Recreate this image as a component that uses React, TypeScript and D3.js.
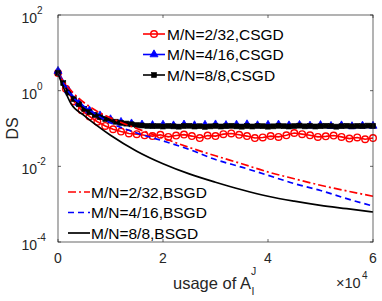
import React from "react";
import * as d3 from "d3";

// x in units of "usage", y is DS (log scale)
const csgdRedStep = 1500;
const csgdRed = [
  2.95, 1.12, 0.525, 0.302, 0.209, 0.151, 0.117, 0.0955, 0.083, 0.074, 0.071,
  0.066, 0.063, 0.068, 0.06, 0.065, 0.069, 0.063, 0.056, 0.065, 0.063,
  0.071, 0.074, 0.068, 0.063, 0.056, 0.058, 0.063, 0.06, 0.066, 0.076,
  0.071, 0.066, 0.06, 0.062, 0.065, 0.06, 0.054, 0.058, 0.052, 0.056,
];

const csgdBlueStep = 2000;
const csgdBlue = [
  3.3, 1.0, 0.47, 0.295, 0.22, 0.174, 0.148, 0.135, 0.126, 0.122, 0.125,
  0.12, 0.126, 0.121, 0.124, 0.127, 0.122, 0.125, 0.128, 0.121, 0.124,
  0.126, 0.12, 0.123, 0.118, 0.122, 0.116, 0.12, 0.114, 0.118, 0.117,
];

const csgdBlackStep = 1000;
const csgdBlack = [
  2.95, 1.58, 0.89, 0.6, 0.437, 0.331, 0.269, 0.229, 0.2, 0.178, 0.162,
  0.151, 0.141, 0.135, 0.129, 0.123, 0.12, 0.117, 0.115, 0.116, 0.113,
  0.117, 0.114, 0.112, 0.116, 0.118, 0.113, 0.115, 0.111, 0.114, 0.117,
  0.113, 0.115, 0.118, 0.114, 0.112, 0.116, 0.113, 0.117, 0.115, 0.112,
  0.114, 0.118, 0.115, 0.113, 0.116, 0.119, 0.114, 0.117, 0.113, 0.115,
  0.118, 0.116, 0.112, 0.115, 0.118, 0.114, 0.117, 0.115, 0.119, 0.117,
];

const bsgdX = [0, 1000, 2500, 5000, 7500, 10000, 15000, 20000, 25000, 30000, 35000, 40000, 45000, 50000, 55000, 60000];
const bsgdRed = [2.8, 1.78, 1.0, 0.479, 0.282, 0.191, 0.1, 0.056, 0.0316, 0.019, 0.0117, 0.0071, 0.0047, 0.00316, 0.00224, 0.00162];
const bsgdBlue = [2.8, 1.58, 0.76, 0.38, 0.224, 0.141, 0.076, 0.047, 0.028, 0.0151, 0.0095, 0.0058, 0.0035, 0.0023, 0.0014, 0.00089];
const bsgdBlack = [2.8, 1.26, 0.447, 0.219, 0.117, 0.066, 0.0251, 0.0117, 0.0063, 0.0038, 0.0024, 0.00162, 0.0012, 0.00093, 0.00076, 0.00062];

const xTicks = [0, 20000, 40000, 60000];
const xTickLabels = ["0", "2", "4", "6"];
const yTicks = [1e-4, 1e-2, 1, 1e2];
const yTickExp = ["-4", "-2", "0", "2"];

const csgdLabels = ["M/N=2/32,CSGD", "M/N=4/16,CSGD", "M/N=8/8,CSGD"];
const bsgdLabels = ["M/N=2/32,BSGD", "M/N=4/16,BSGD", "M/N=8/8,BSGD"];

const W = 382;
const H = 301;
const m = { left: 58, right: 9, top: 15, bottom: 59 };
const font = "'Liberation Sans', Arial, Helvetica, sans-serif";
const axisColor = "#262626";

const x = d3.scaleLinear().domain([0, 60000]).range([m.left, W - m.right]);
const y = d3.scaleLog().domain([1e-4, 1e2]).range([H - m.bottom, m.top]);

type Pt = [number, number];
const stepped = (vals: number[], step: number): Pt[] => vals.map((v, i) => [i * step, v]);
const paired = (xs: number[], vals: number[]): Pt[] => vals.map((v, i) => [xs[i], v]);

const linePath = d3.line<Pt>().x((d) => x(d[0])).y((d) => y(d[1]));
const smoothPath = d3
  .line<Pt>()
  .x((d) => x(d[0]))
  .y((d) => y(d[1]))
  .curve(d3.curveMonotoneX);

const triPath = d3.symbol(d3.symbolTriangle, 28)() || "";

const Marker = ({ kind, cx, cy }: { kind: string; cx: number; cy: number }) => {
  if (kind === "circle")
    return <circle cx={cx} cy={cy} r={3.3} fill="none" stroke="#ff0000" strokeWidth={1.4} />;
  if (kind === "tri")
    return <path d={triPath} transform={`translate(${cx},${cy})`} fill="#0000ff" stroke="#0000ff" strokeWidth={0.8} />;
  return <rect x={cx - 2.5} y={cy - 2.5} width={5} height={5} fill="#000" stroke="#000" strokeWidth={0.6} />;
};

const csgd = [
  { pts: stepped(csgdRed, csgdRedStep), color: "#ff0000", kind: "circle" },
  { pts: stepped(csgdBlue, csgdBlueStep), color: "#0000ff", kind: "tri" },
  { pts: stepped(csgdBlack, csgdBlackStep), color: "#000000", kind: "square" },
];

const bsgd = [
  { pts: paired(bsgdX, bsgdRed), color: "#ff0000", dash: "8,3,2,3" },
  { pts: paired(bsgdX, bsgdBlue), color: "#0000ff", dash: "6,4" },
  { pts: paired(bsgdX, bsgdBlack), color: "#000000", dash: "none" },
];

export default function App() {
  const [x0, x1] = x.range();
  const [yb, yt] = y.range();
  const tl = 3;
  return (
    <div style={{ position: "absolute", left: 0, top: 0 }}>
      <svg width={W} height={H} style={{ display: "block", background: "#fff" }} fontFamily={font}>
        {/* data */}
        {csgd.map((s, i) => (
          <g key={"c" + i}>
            <path d={linePath(s.pts) || ""} fill="none" stroke={s.color} strokeWidth={1.6} />
            {s.pts.map((p, j) => (
              <Marker key={j} kind={s.kind} cx={x(p[0])} cy={y(p[1])} />
            ))}
          </g>
        ))}
        {bsgd.map((s, i) => (
          <path
            key={"b" + i}
            d={smoothPath(s.pts) || ""}
            fill="none"
            stroke={s.color}
            strokeWidth={1.7}
            strokeDasharray={s.dash}
          />
        ))}

        {/* box and ticks */}
        <rect x={x0} y={yt} width={x1 - x0} height={yb - yt} fill="none" stroke={axisColor} strokeWidth={0.7} />
        {xTicks.map((t, i) => (
          <g key={"xt" + i}>
            <line x1={x(t)} x2={x(t)} y1={yb} y2={yb - tl} stroke={axisColor} strokeWidth={0.7} />
            <line x1={x(t)} x2={x(t)} y1={yt} y2={yt + tl} stroke={axisColor} strokeWidth={0.7} />
            <text x={x(t)} y={yb + 21} fontSize={14} textAnchor="middle" fill="#262626">
              {xTickLabels[i]}
            </text>
          </g>
        ))}
        {yTicks.map((t, i) => (
          <g key={"yt" + i}>
            <line x1={x0} x2={x0 + tl} y1={y(t)} y2={y(t)} stroke={axisColor} strokeWidth={0.7} />
            <line x1={x1} x2={x1 - tl} y1={y(t)} y2={y(t)} stroke={axisColor} strokeWidth={0.7} />
            <text x={x0 - 21} y={y(t) + 8} fontSize={14} textAnchor="end" fill="#262626">
              10
            </text>
            <text x={x0 - 21} y={y(t) - 1} fontSize={10} textAnchor="start" fill="#262626">
              {yTickExp[i]}
            </text>
          </g>
        ))}

        {/* axis labels */}
        <text transform={`translate(18,${(yt + yb) / 2}) rotate(-90)`} fontSize={16} textAnchor="middle" fill="#262626">
          DS
        </text>
        <text x={173} y={289} fontSize={16.5} fill="#262626">
          usage of A
        </text>
        <text x={251} y={275} fontSize={10.5} fill="#262626">J</text>
        <text x={251.5} y={295} fontSize={10.5} fill="#262626">I</text>
        <text x={x1 - 37} y={288} fontSize={14.5} fill="#262626">×10</text>
        <text x={x1 - 11} y={279} fontSize={10} fill="#262626">4</text>

        {/* legends */}
        {csgd.map((s, i) => {
          const ly = 34 + i * 20.5;
          return (
            <g key={"lc" + i}>
              <line x1={143} x2={165} y1={ly} y2={ly} stroke={s.color} strokeWidth={1.6} />
              <Marker kind={s.kind} cx={154} cy={ly} />
              <text x={167} y={ly + 5.5} fontSize={15.5} fill="#000">
                {csgdLabels[i]}
              </text>
            </g>
          );
        })}
        {bsgd.map((s, i) => {
          const ly = 192 + i * 20.5;
          return (
            <g key={"lb" + i}>
              <line x1={68} x2={90} y1={ly} y2={ly} stroke={s.color} strokeWidth={1.7} strokeDasharray={s.dash} />
              <text x={91} y={ly + 5.5} fontSize={15.5} fill="#000">
                {bsgdLabels[i]}
              </text>
            </g>
          );
        })}
      </svg>
    </div>
  );
}
